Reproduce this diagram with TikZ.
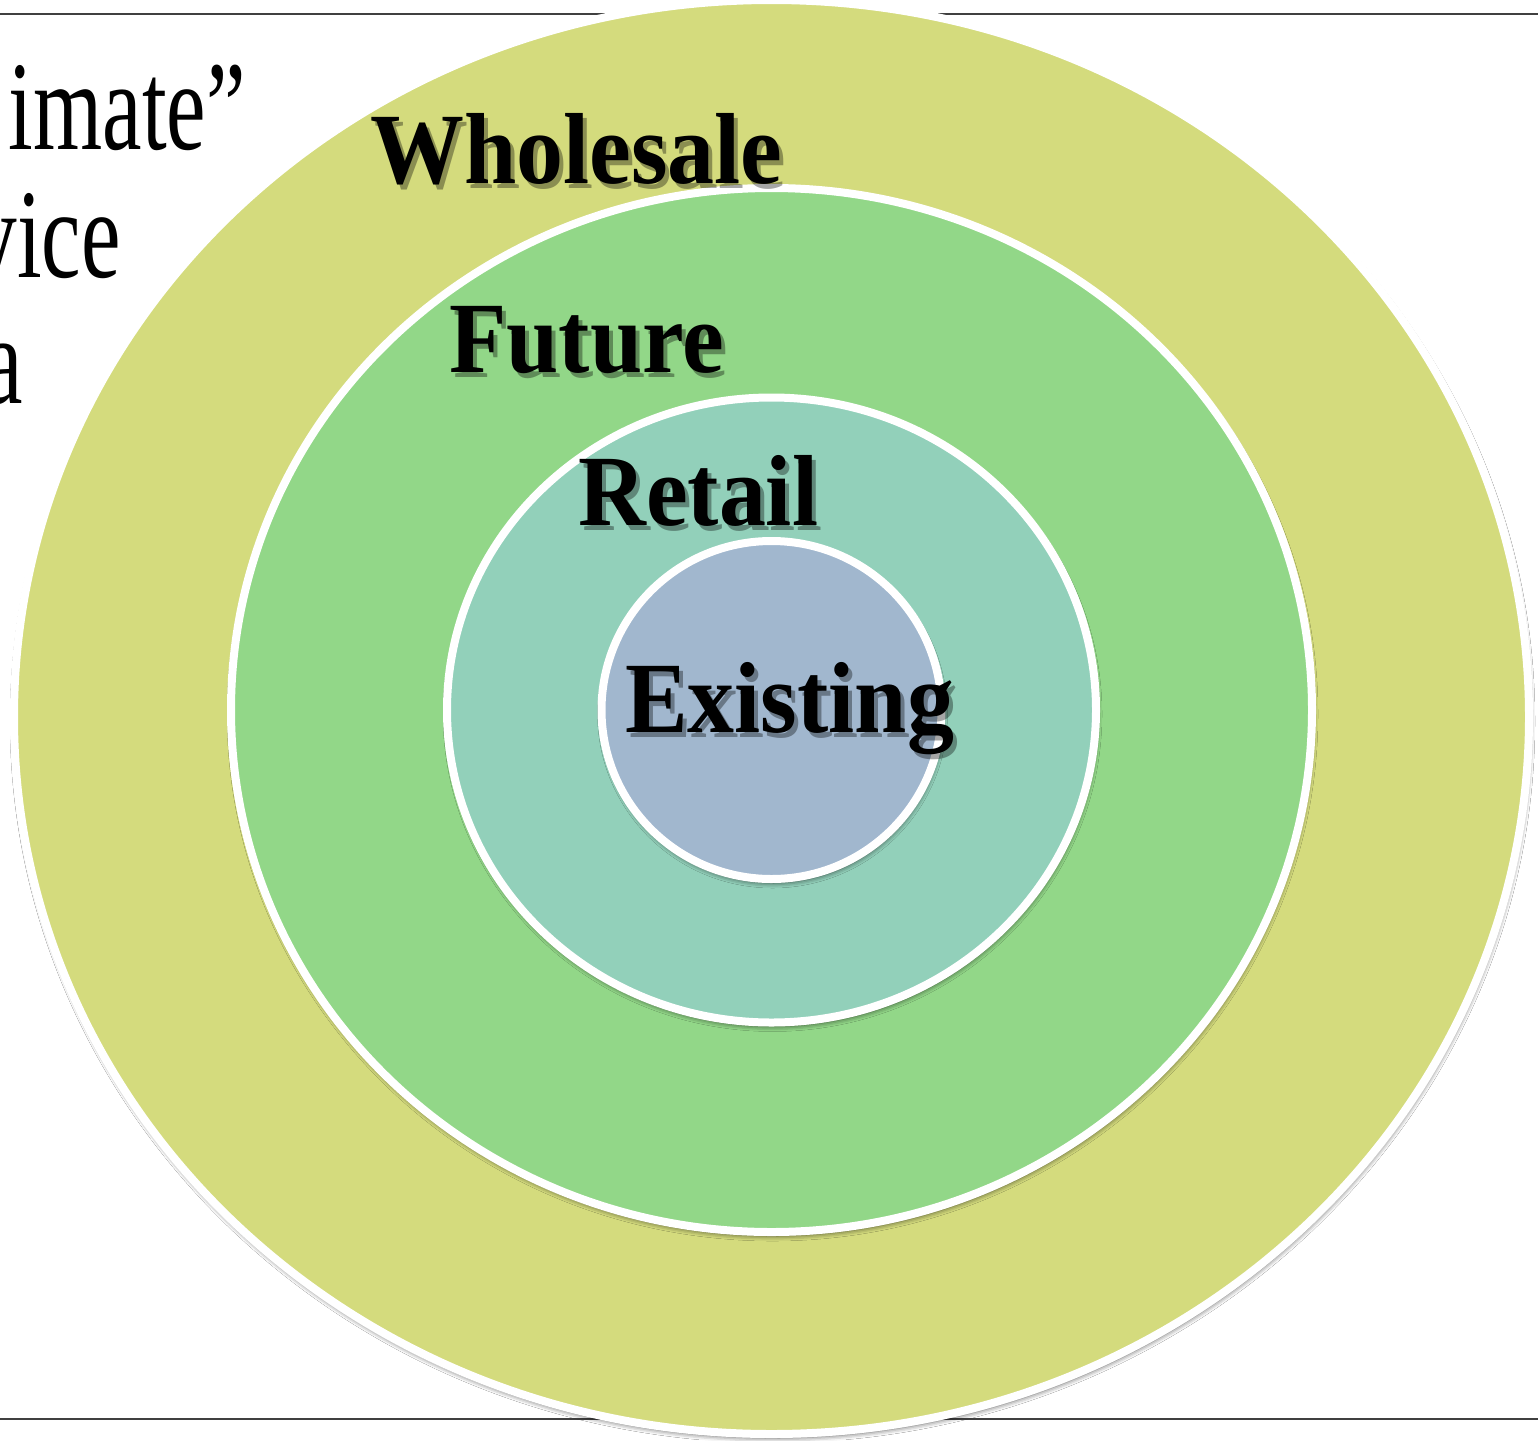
\documentclass[tikz,border=0pt]{standalone}
\usepackage{fontspec}
\setmainfont{Liberation Serif}
\newfontfamily\ringfont[FakeStretch=0.93]{Liberation Serif}
\newfontfamily\sidefont[FakeStretch=0.70]{Liberation Serif}
\usetikzlibrary{shadows.blur}

\definecolor{wholesalefill}{HTML}{D4DB7D}
\definecolor{futurefill}{HTML}{92D788}
\definecolor{retailfill}{HTML}{92D0BA}
\definecolor{existingfill}{HTML}{A1B7CE}

\tikzset{
    ring/.style={draw=white, line width=8pt,
        blur shadow={shadow xshift=1pt, shadow yshift=-4pt,
            shadow blur radius=5pt, shadow opacity=65}},
    ringlabel/.style={inner sep=0pt, anchor=base west,
        font=\ringfont\bfseries\fontsize{101}{101}\selectfont},
    labelshadow/.style={ringlabel, text=black, opacity=0.35},
    sidetext/.style={inner sep=0pt, anchor=base east,
        font=\sidefont\fontsize{127}{127}\selectfont},
    rule/.style={draw=black!75, line width=2pt}
}

\begin{document}
\begin{tikzpicture}[x=1pt, y=-1pt]
\clip (0,0) rectangle (1538,1440);
\fill[white] (0,0) rectangle (1538,1440);

\coordinate (top-left) at (0,14);
\coordinate (top-right) at (1538,14);
\coordinate (bottom-left) at (0,1419);
\coordinate (bottom-right) at (1538,1419);
\draw[rule] (top-left) -- (top-right);
\draw[rule] (bottom-left) -- (bottom-right);

\node[sidetext] (side-one) at (246,149) {imate”};
\node[sidetext] (side-two) at (121,277) {vice};
\node[sidetext] (side-three) at (23,403) {a};

\path[ring, fill=wholesalefill] (771.5,717) ellipse [x radius=757.5, y radius=717];
\path[ring, fill=futurefill] (771.5,710) ellipse [x radius=540.5, y radius=522];
\path[ring, fill=retailfill] (771.5,710) ellipse [x radius=324.5, y radius=312.5];
\path[ring, fill=existingfill] (771.5,710) ellipse [x radius=170, y radius=169];

\node[labelshadow] (wholesale-shadow) at (374,188) {Wholesale};
\node[ringlabel] (wholesale) at (370,183) {Wholesale};

\node[labelshadow] (future-shadow) at (453,377) {Future};
\node[ringlabel] (future) at (449,372) {Future};

\node[labelshadow] (retail-shadow) at (582,530) {Retail};
\node[ringlabel] (retail) at (578,525) {Retail};

\node[labelshadow] (existing-shadow) at (629,737) {Existing};
\node[ringlabel] (existing) at (625,732) {Existing};
\end{tikzpicture}
\end{document}
